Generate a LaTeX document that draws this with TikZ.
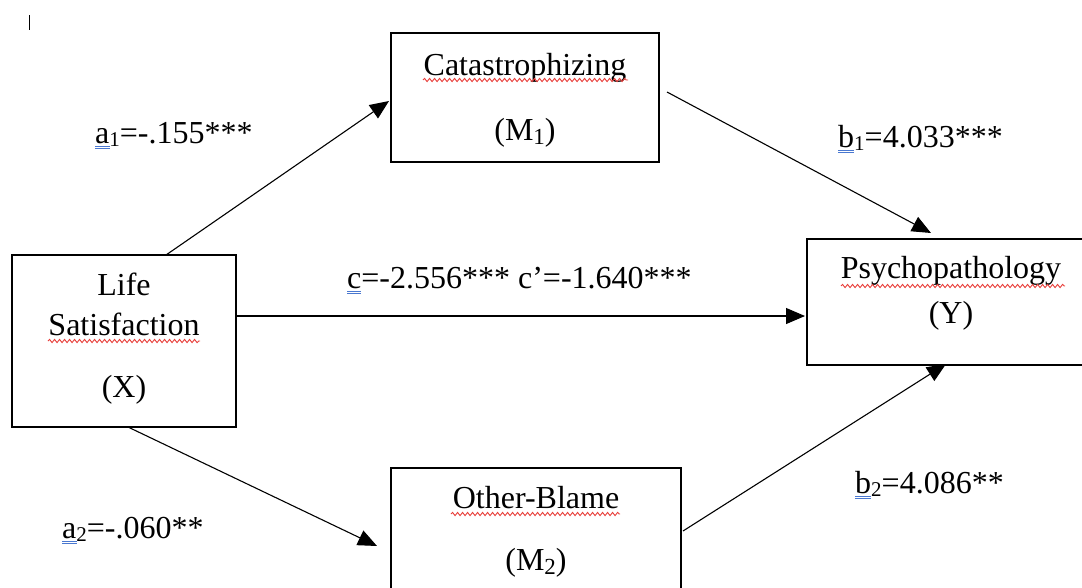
\documentclass[tikz,border=0pt]{standalone}
\usepackage{fontspec}
\setmainfont{Liberation Serif}
\usetikzlibrary{arrows.meta,decorations.pathmorphing}
\newcommand{\lsub}[1]{\raisebox{-0.1em}{\fontsize{21}{21}\selectfont #1}}
\newcommand{\msub}[1]{\raisebox{-0.15em}{\fontsize{23}{23}\selectfont #1}}
\definecolor{wavyred}{HTML}{E8403C}
\definecolor{wordblue}{HTML}{4A78D0}
\tikzset{
  box/.style={draw, line width=1.8pt, inner sep=0pt},
  lbl/.style={font=\fontsize{32}{38}\selectfont, inner sep=0pt, anchor=base},
  coef/.style={font=\fontsize{32}{38}\selectfont, inner sep=0pt, anchor=base west},
  conn/.style={line width=1.1pt, -{Triangle[length=19pt,width=16pt]}},
  wavy/.style={wavyred, line width=0.9pt, decorate, decoration={snake, amplitude=1.6pt, segment length=5pt}},
  dblu/.style={wordblue, line width=0.8pt, double distance=1.5pt}
}
\begin{document}
\begin{tikzpicture}[x=1pt,y=-1pt]
\useasboundingbox (0,0) rectangle (1082,587);
\clip (0,0) rectangle (1082,587);
% boxes
\node[box, minimum width=268pt, minimum height=129pt] (m1) at (525,97.5) {};
\node[box, minimum width=288pt, minimum height=126pt] (y) at (951,302) {};
\node[box, minimum width=224pt, minimum height=172pt] (x) at (124,341) {};
\node[box, minimum width=290pt, minimum height=142pt] (m2) at (536,539) {};
% box texts
\node[lbl] (m1t) at (525,75) {Catastrophizing};
\node[lbl] (m1s) at (525,140) {(M\msub{1})};
\node[lbl] (yt) at (951,278) {Psychopathology};
\node[lbl] (ys) at (951,323) {(Y)};
\node[lbl] (xt1) at (124,295) {Life};
\node[lbl] (xt2) at (124,335) {Satisfaction};
\node[lbl] (xs) at (124,397) {(X)};
\node[lbl] (m2t) at (536,508) {Other-Blame};
\node[lbl] (m2s) at (536,570) {(M\msub{2})};
% spell-check underlines
\draw[wavy] (423,80) -- (628,80);
\draw[wavy] (841,286) -- (1065,286);
\draw[wavy] (48,341) -- (200,341);
\draw[wavy] (451,514) -- (620,514);
% coefficient labels
\node[coef] (la1) at (95,143) {a\lsub{1}=-.155***};
\node[coef] (la2) at (62,538) {a\lsub{2}=-.060**};
\node[coef] (lb1) at (838,147) {b\lsub{1}=4.033***};
\node[coef] (lb2) at (855,493) {b\lsub{2}=4.086**};
\node[coef] (lc) at (347,288) {c=-2.556*** c\textquoteright=-1.640***};
\draw[dblu] (95,147.5) -- (110,147.5);
\draw[dblu] (62,542.5) -- (77,542.5);
\draw[dblu] (838,151.5) -- (854,151.5);
\draw[dblu] (855,497.5) -- (871,497.5);
\draw[dblu] (347,292.5) -- (361,292.5);
% connector end points
\coordinate (xa) at (166,255);
\coordinate (m1in) at (389,101);
\coordinate (xb) at (236,316);
\coordinate (yin) at (805,316);
\coordinate (xc) at (128,427);
\coordinate (m2in) at (377,546);
\coordinate (m1out) at (667,92);
\coordinate (yin1) at (931,233);
\coordinate (m2out) at (683,531);
\coordinate (yin2) at (946,364);
\draw[conn] (xa) -- (m1in);
\draw[conn] (xb) -- (yin);
\draw[conn] (xc) -- (m2in);
\draw[conn] (m1out) -- (yin1);
\draw[conn] (m2out) -- (yin2);
% text cursor mark
\coordinate (cur1) at (29,15);
\coordinate (cur2) at (29,30);
\draw[line width=1pt] (cur1) -- (cur2);
\end{tikzpicture}
\end{document}
